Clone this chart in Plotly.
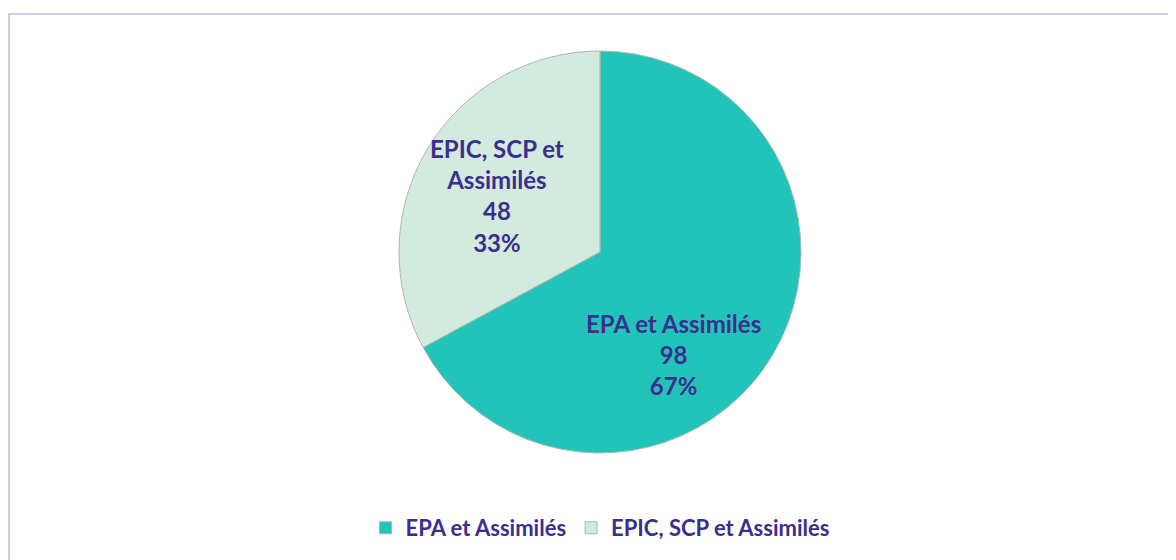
import plotly.graph_objects as go

# ----------------------------
# DATA
# ----------------------------
labels = ["EPA et Assimilés", "EPIC, SCP et Assimilés"]
label_text = ["EPA et Assimilés", "EPIC, SCP et<br>Assimilés"]
values = [98, 48]
colors = ["#22C4B9", "#D3EADF"]

text_color = "#3B2E8E"
W, H = 1176, 560
OFF = 8  # default page body margin

# label block centres in window pixels
label_pos = [(673, 354), (497, 196)]

total = sum(values)

# ----------------------------
# PIE
# ----------------------------
fig = go.Figure(
    go.Pie(
        labels=labels,
        values=values,
        sort=False,
        direction="clockwise",
        rotation=0,
        marker=dict(colors=colors, line=dict(color="#A9B7B2", width=1)),
        textinfo="none",
        domain=dict(
            x=[(399 - OFF) / W, (801 - OFF) / W],
            y=[1 - (453 - OFF) / H, 1 - (51 - OFF) / H],
        ),
        hoverinfo="label+value+percent",
    )
)

for txt, val, (px_, py_) in zip(label_text, values, label_pos):
    fig.add_annotation(
        x=(px_ - OFF) / W,
        y=1 - (py_ - OFF) / H,
        xref="paper",
        yref="paper",
        text=f"{txt}<br>{val}<br>{val / total:.0%}",
        showarrow=False,
        font=dict(family="Lato", size=24, color=text_color, weight="bold"),
        align="center",
    )

fig.update_layout(
    width=W,
    height=H,
    margin=dict(l=0, r=0, t=0, b=0),
    paper_bgcolor="white",
    font=dict(family="Lato", color=text_color),
    legend=dict(
        orientation="h",
        x=(600 - OFF) / W,
        xanchor="center",
        y=1 - (528 - OFF) / H,
        yanchor="middle",
        font=dict(family="Lato", size=22, color=text_color, weight="bold"),
        itemwidth=30,
    ),
    shapes=[
        dict(
            type="rect",
            xref="paper",
            yref="paper",
            x0=(9 - OFF) / W,
            x1=1.01,
            y0=-0.01,
            y1=1 - (14 - OFF) / H,
            line=dict(color="#CFC8EC", width=2),
        )
    ],
)

fig.write_html("out.html")
